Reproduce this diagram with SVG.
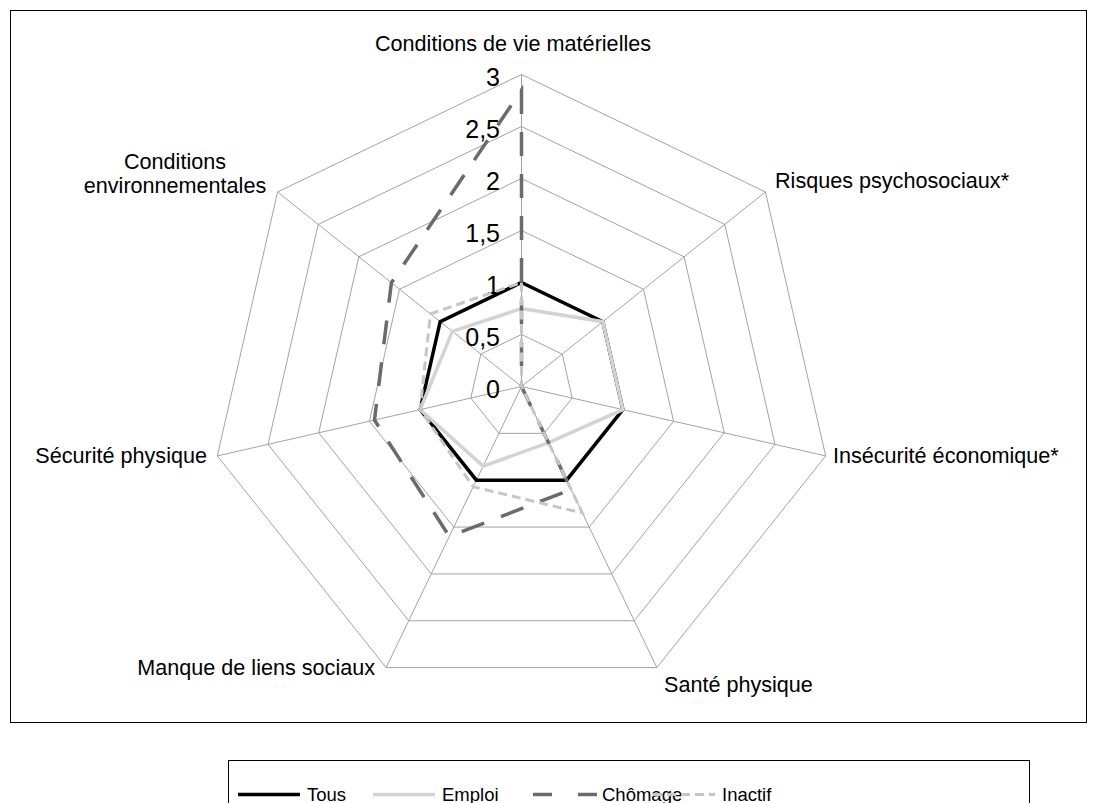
<svg xmlns="http://www.w3.org/2000/svg" width="1096" height="803" viewBox="0 0 1096 803">
<style>
.grid{fill:none;stroke:#a3a3a3;stroke-width:1}
.lbl{font-family:"Liberation Sans",Arial,sans-serif;font-size:21.6px;fill:#000}
.num{font-family:"Liberation Sans",Arial,sans-serif;font-size:25px;fill:#000;text-anchor:end}
.leg{font-family:"Liberation Sans",Arial,sans-serif;font-size:18.5px;fill:#000}
.tous{fill:none;stroke:#000;stroke-width:3.5;stroke-linejoin:miter}
.emploi{fill:none;stroke:#d3d3d3;stroke-width:3.5;stroke-linejoin:miter}
.chomage{fill:none;stroke:#6b6b6b;stroke-width:3.5;stroke-dasharray:24 18;stroke-linejoin:miter}
.inactif{fill:none;stroke:#c6c6c6;stroke-width:3;stroke-dasharray:9 5;stroke-linejoin:miter}
</style>
<rect x="0" y="0" width="1096" height="803" fill="#fff"/>
<rect x="10.5" y="10.5" width="1076" height="712" fill="none" stroke="#000" stroke-width="1"/>
<g id="grid">
<polygon class="grid" points="521.5,334.5 562.16,354.08 572.2,398.07 544.06,433.35 498.94,433.35 470.8,398.07 480.84,354.08"/>
<polygon class="grid" points="521.5,282.5 602.81,321.66 622.89,409.64 566.62,480.2 476.38,480.2 420.11,409.64 440.19,321.66"/>
<polygon class="grid" points="521.5,230.5 643.47,289.24 673.59,421.21 589.19,527.05 453.81,527.05 369.41,421.21 399.53,289.24"/>
<polygon class="grid" points="521.5,178.5 684.12,256.81 724.29,432.78 611.75,573.9 431.25,573.9 318.71,432.78 358.88,256.81"/>
<polygon class="grid" points="521.5,126.5 724.78,224.39 774.98,444.36 634.31,620.75 408.69,620.75 268.02,444.36 318.22,224.39"/>
<polygon class="grid" points="521.5,74.5 765.43,191.97 825.68,455.93 656.87,667.6 386.13,667.6 217.32,455.93 277.57,191.97"/>
<path class="grid" d="M521.5,386.5L521.5,74.5M521.5,386.5L765.43,191.97M521.5,386.5L825.68,455.93M521.5,386.5L656.87,667.6M521.5,386.5L386.13,667.6M521.5,386.5L217.32,455.93M521.5,386.5L277.57,191.97"/>
</g>
<g id="axis-values">
<text class="num" x="500" y="85.5">3</text>
<text class="num" x="500" y="137.5">2,5</text>
<text class="num" x="500" y="189.5">2</text>
<text class="num" x="500" y="241.5">1,5</text>
<text class="num" x="500" y="293.5">1</text>
<text class="num" x="500" y="345.5">0,5</text>
<text class="num" x="500" y="397.5">0</text>
</g>
<g id="series">
<polygon id="tous" class="tous" points="521.5,282.5 602.81,321.66 622.89,409.64 566.62,480.2 476.38,480.2 420.11,409.64 440.19,321.66"/>
<polygon id="emploi" class="emploi" points="521.5,308.5 602.81,321.66 622.89,409.64 548.57,442.72 483.14,466.15 420.11,409.64 452.39,331.38"/>
<polygon id="chomage" class="chomage" points="521.5,90.1 521.5,386.5 521.5,386.5 571.14,489.57 449.3,536.42 374.48,420.06 391.4,282.75"/>
<polygon id="inactif" class="inactif" points="521.5,282.5 521.5,386.5 521.5,386.5 582.42,513 473.21,486.78 420.11,409.64 430.42,313.86"/>
</g>
<g id="cat-conditions-vie"><text class="lbl" x="513" y="51" text-anchor="middle">Conditions de vie matérielles</text></g>
<g id="cat-risques"><text class="lbl" x="775" y="188">Risques psychosociaux*</text></g>
<g id="cat-insecurite"><text class="lbl" x="833" y="463">Insécurité économique*</text></g>
<g id="cat-sante"><text class="lbl" x="664" y="692">Santé physique</text></g>
<g id="cat-liens"><text class="lbl" x="375" y="675" text-anchor="end">Manque de liens sociaux</text></g>
<g id="cat-securite"><text class="lbl" x="207" y="463" text-anchor="end">Sécurité physique</text></g>
<g id="cat-environnement"><text class="lbl" x="175" y="169" text-anchor="middle">Conditions</text><text class="lbl" x="175" y="193" text-anchor="middle">environnementales</text></g>
<g id="legend">
<rect x="228.5" y="760.5" width="801" height="60" fill="#fff" stroke="#000" stroke-width="1"/>
<line class="tous" x1="238" y1="794.5" x2="300" y2="794.5"/>
<text class="leg" x="307" y="801">Tous</text>
<line class="emploi" x1="373" y1="794.5" x2="435" y2="794.5"/>
<text class="leg" x="442" y="801">Emploi</text>
<line x1="533" y1="794.5" x2="597" y2="794.5" stroke="#6b6b6b" stroke-width="3.5" stroke-dasharray="19 26"/>
<text class="leg" x="602" y="801">Chômage</text>
<line class="inactif" x1="653" y1="794.5" x2="715" y2="794.5"/>
<text class="leg" x="722" y="801">Inactif</text>
</g>
</svg>
